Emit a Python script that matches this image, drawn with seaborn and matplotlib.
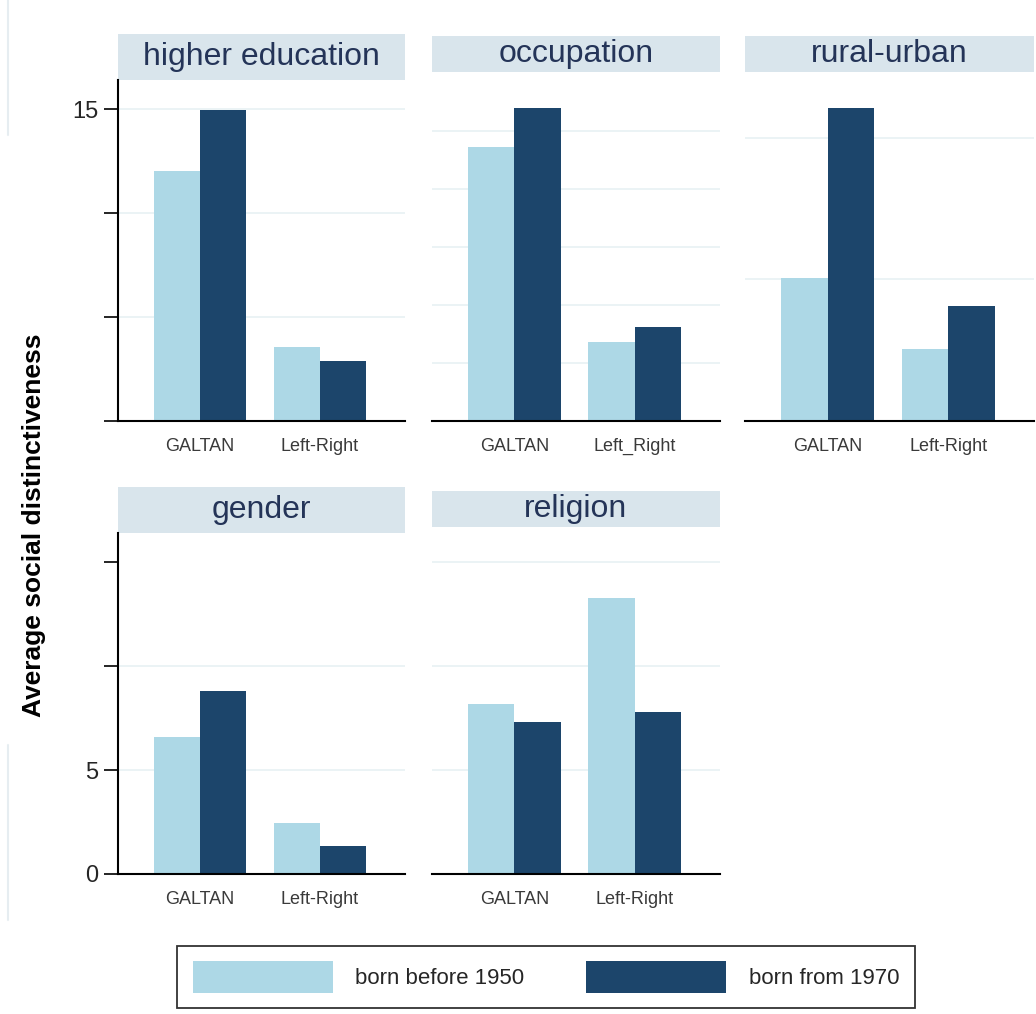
import numpy as np
import pandas as pd
import seaborn as sns
import matplotlib.pyplot as plt
from matplotlib.patches import Rectangle
from matplotlib.lines import Line2D

# values
cohorts = ["born before 1950", "born from 1970"]
panel_titles = ["higher education", "occupation", "rural-urban", "gender", "religion"]
cleavages = [
    ["GALTAN", "Left-Right"],
    ["GALTAN", "Left_Right"],
    ["GALTAN", "Left-Right"],
    ["GALTAN", "Left-Right"],
    ["GALTAN", "Left-Right"],
]
before_1950 = [
    [12.0, 3.55],
    [9.45, 2.72],
    [5.05, 2.55],
    [6.6, 2.45],
    [8.2, 13.3],
]
from_1970 = [
    [14.95, 2.9],
    [10.8, 3.25],
    [11.05, 4.05],
    [8.8, 1.35],
    [7.3, 7.8],
]
y_tops = [16.4, 12.03, 12.33, 16.4, 16.7]
grid_steps = [[5, 10, 15], [2, 4, 6, 8, 10], [5, 10], [5, 10], [5, 10, 15]]
tick_labels_left = {0: ["", "", "", "15"], 3: ["0", "5", "", ""]}

light = "#add8e6"
dark = "#1c456b"
palette = {cohorts[0]: light, cohorts[1]: dark}

sns.set_theme(style="white")
plt.rcParams["font.family"] = ["Liberation Sans", "DejaVu Sans"]

W, H = 1036, 1014
fig = plt.figure(figsize=(W / 100, H / 100), dpi=100)

# pixel boxes: left, right, baseline, plot top, strip top
boxes = [
    (118, 405, 421, 80, 34),
    (432, 720, 421, 72, 36),
    (745, 1034, 421, 72, 36),
    (118, 405, 874, 533, 487),
    (432, 720, 874, 527, 491),
]

handles = None
for i, title in enumerate(panel_titles):
    x0, x1, yb, yt, ys = boxes[i]
    ax = fig.add_axes([x0 / W, 1 - yb / H, (x1 - x0) / W, (yb - yt) / H])

    df = pd.DataFrame({
        "cleavage": cleavages[i] * 2,
        "cohort": [cohorts[0]] * 2 + [cohorts[1]] * 2,
        "value": before_1950[i] + from_1970[i],
    })
    sns.barplot(data=df, x="cleavage", y="value", hue="cohort",
                palette=palette, width=0.77, saturation=1, ax=ax,
                order=cleavages[i], hue_order=cohorts, legend=(i == 0),
                linewidth=0, edgecolor="none")
    if i == 0:
        handles, labels = ax.get_legend_handles_labels()
        ax.get_legend().remove()

    ax.set_xlim(-0.683, 1.708)
    ax.set_ylim(0, y_tops[i])
    ax.set_xlabel("")
    ax.set_ylabel("")
    for g in grid_steps[i]:
        ax.axhline(g, color="#e8f1f4", lw=1.2, zorder=0)

    for s in ["top", "right"]:
        ax.spines[s].set_visible(False)
    ax.spines["bottom"].set_color("black")
    ax.spines["bottom"].set_linewidth(1.5)
    if i in tick_labels_left:
        ax.spines["left"].set_color("black")
        ax.spines["left"].set_linewidth(1.5)
        ax.set_yticks([0, 5, 10, 15])
        ax.set_yticklabels(tick_labels_left[i], fontsize=17)
        ax.tick_params(axis="y", length=10, width=1.2, color="black",
                       pad=4, left=True)
    else:
        ax.spines["left"].set_visible(False)
        ax.set_yticks([])

    ax.tick_params(axis="x", length=0, pad=12, labelsize=13,
                   labelcolor="#3a3a3a")

    # strip title
    sh = (yt - ys) / (yb - yt)
    ax.add_patch(Rectangle((0, 1), 1, sh, transform=ax.transAxes,
                           facecolor="#d9e5ec", edgecolor="none",
                           clip_on=False))
    ax.text(0.5, 1 + sh / 2, title, transform=ax.transAxes,
            ha="center", va="center", fontsize=23, color="#243458")

fig.text(34 / W, 1 - 525 / H, "Average social distinctiveness",
         rotation=90, ha="center", va="center", fontsize=19,
         fontweight="bold", color="black")

# faint vertical marks along the left edge
fig.add_artist(Line2D([8 / W, 8 / W], [1 - 0 / H, 1 - 135 / H],
                      color="#e6edf1", lw=1.5))
fig.add_artist(Line2D([8 / W, 8 / W], [1 - 745 / H, 1 - 920 / H],
                      color="#e6edf1", lw=1.5))

leg = fig.legend(handles, labels, loc="center", ncol=2,
                 bbox_to_anchor=(546 / W, 1 - 977 / H),
                 fontsize=16, handlelength=6.3, handleheight=1.8,
                 handletextpad=1.0, columnspacing=2.8, borderpad=0.7,
                 frameon=True, fancybox=False)
leg.get_frame().set_edgecolor("black")
leg.get_frame().set_linewidth(1.3)

fig.savefig("out.png", dpi=100)
